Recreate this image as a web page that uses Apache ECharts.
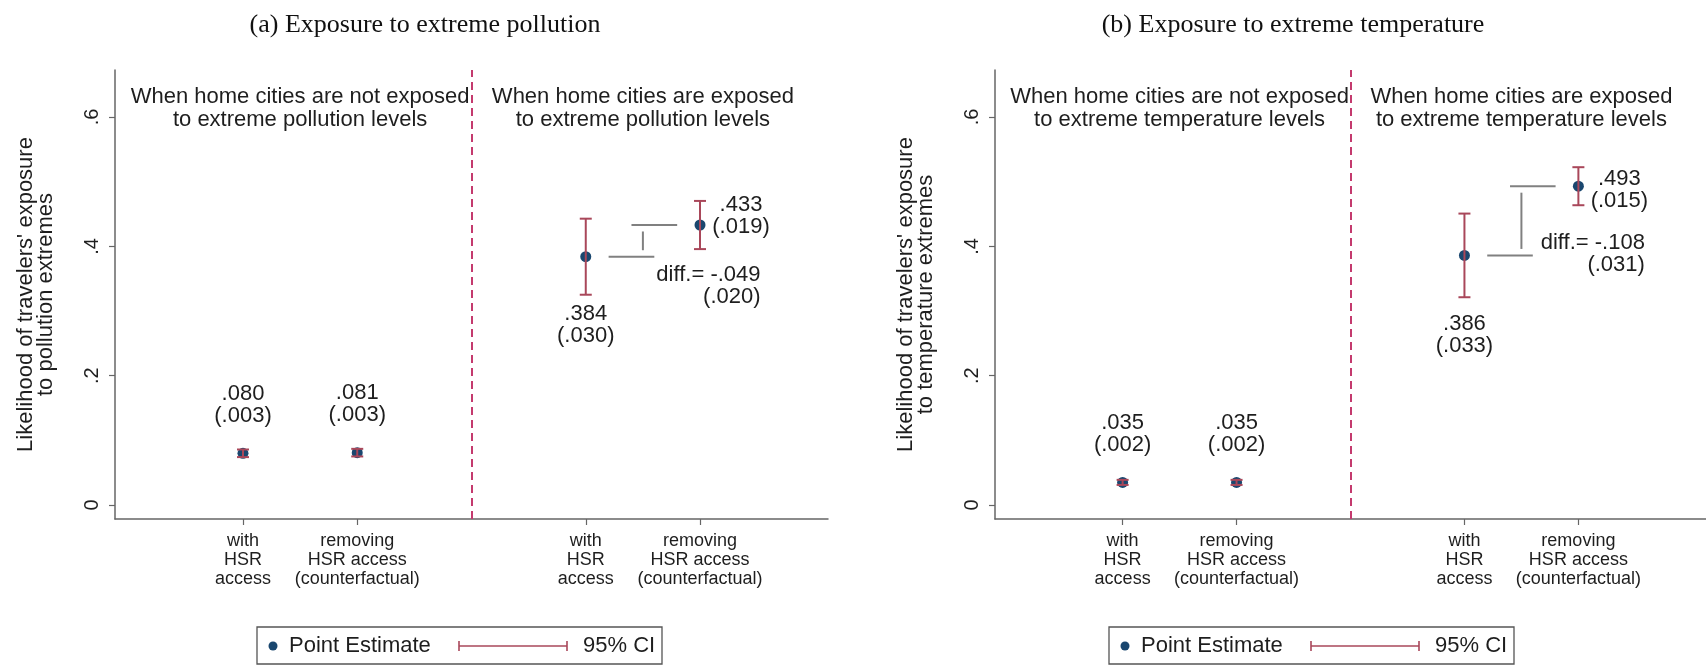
<!DOCTYPE html>
<html>
<head>
<meta charset="utf-8">
<script src="https://cdn.jsdelivr.net/npm/echarts@6/dist/echarts.min.js"></script>
<style>
  html, body { margin: 0; padding: 0; background: #fff; }
  #main { width: 1706px; height: 666px; }
</style>
</head>
<body>
<div id="main"></div>
<script>
// x positions of the four estimates (3 is the dashed divider)
const xPositions = [1, 2, 4, 5];
const xTickLabels = ['with\nHSR\naccess', 'removing\nHSR access\n(counterfactual)', 'with\nHSR\naccess', 'removing\nHSR access\n(counterfactual)'];
const yTicks = [0, 0.2, 0.4, 0.6];
const yTickLabels = ['0', '.2', '.4', '.6'];

// panel (a) pollution
const pollutionEst = [0.080, 0.081, 0.384, 0.433];
const pollutionSE = [0.003, 0.003, 0.030, 0.019];
const pollutionDiff = [-0.049, 0.020];
// panel (b) temperature
const temperatureEst = [0.035, 0.035, 0.386, 0.493];
const temperatureSE = [0.002, 0.002, 0.033, 0.015];
const temperatureDiff = [-0.108, 0.031];

const panelTitles = ['(a) Exposure to extreme pollution', '(b) Exposure to extreme temperature'];
const yTitles = ["Likelihood of travelers' exposure\nto pollution extremes", "Likelihood of travelers' exposure\nto temperature extremes"];
const groupHeadersA = ['When home cities are not exposed\nto extreme pollution levels', 'When home cities are exposed\nto extreme pollution levels'];
const groupHeadersB = ['When home cities are not exposed\nto extreme temperature levels', 'When home cities are exposed\nto extreme temperature levels'];

const NAVY = '#1a476f';
const CI_RED = '#a9475a';
const DASH = '#c43a6e';
const GRAY = '#808080';
const INK = '#1e1e1e';
const FONT = 'Liberation Sans, Arial, sans-serif';

const fmt = v => v.toFixed(3).replace(/^(-?)0\./, '$1.');

const chart = echarts.init(document.getElementById('main'));

const panels = [
  { est: pollutionEst, se: pollutionSE, diff: pollutionDiff, headers: groupHeadersA, left: 115, titleX: 420, legendX: 257,
    rightLabelPos: [46.5, -4], lowDist: 8, diffPos: [61, 30] },
  { est: temperatureEst, se: temperatureSE, diff: temperatureDiff, headers: groupHeadersB, left: 995, titleX: 1288, legendX: 1109,
    rightLabelPos: [46.5, 9.5], lowDist: 15, diffPos: [67, -1] }
];

// invisible anchor points that only carry a text label
const hidden = { color: 'rgba(0,0,0,0)', opacity: 1 };

const grids = [], xAxes = [], yAxes = [], series = [], titles = [], graphics = [];

panels.forEach((p, k) => {
  grids.push({ left: p.left, top: 70, width: 713, height: 449 });
  xAxes.push({
    type: 'value', gridIndex: k, min: -0.12, max: 6.12,
    axisLine: { onZero: false, lineStyle: { color: '#666', width: 1.5 } },
    axisTick: { customValues: xPositions, length: 6, lineStyle: { color: '#666', width: 1.2 } },
    axisLabel: {
      customValues: xPositions, margin: 13, color: INK, fontSize: 18, lineHeight: 19, fontFamily: FONT,
      formatter: v => xTickLabels[xPositions.indexOf(v)] || ''
    },
    splitLine: { show: false }
  });
  yAxes.push({
    type: 'value', gridIndex: k, min: -0.0216, max: 0.6727,
    name: yTitles[k], nameLocation: 'middle', nameGap: 59, nameRotate: 90,
    nameTextStyle: { color: INK, fontSize: 22, lineHeight: 20, fontFamily: FONT },
    axisLine: { show: true, onZero: false, lineStyle: { color: '#666', width: 1.5 } },
    axisTick: { show: true, customValues: yTicks, length: 6, lineStyle: { color: '#666', width: 1.2 } },
    axisLabel: {
      customValues: yTicks, rotate: 90, margin: 13, color: INK, fontSize: 20, fontFamily: FONT,
      formatter: v => yTickLabels[yTicks.indexOf(v)] ?? ''
    },
    splitLine: { show: false }
  });

  const ci = p.est.map((e, i) => [xPositions[i], e - 1.96 * p.se[i], e + 1.96 * p.se[i]]);

  // point estimates
  series.push({
    type: 'scatter', name: 'Point Estimate', xAxisIndex: k, yAxisIndex: k, silent: true, z: 3,
    symbolSize: 11, itemStyle: { color: NAVY, opacity: 1 },
    data: p.est.map((e, i) => {
      const txt = fmt(e) + '\n(' + fmt(p.se[i]) + ')';
      let label;
      if (i < 2) label = { show: true, position: 'top', distance: 21 };
      else if (i === 3) label = { show: true, position: p.rightLabelPos, align: 'center', verticalAlign: 'middle' };
      else label = { show: false };
      return { value: [xPositions[i], e], label: Object.assign(label, { formatter: txt }) };
    }),
    label: { color: INK, fontSize: 22, lineHeight: 22, fontFamily: FONT },
    markLine: {
      silent: true, symbol: ['none', 'none'], label: { show: false },
      lineStyle: { type: [8, 5], color: DASH, width: 2 },
      data: [{ xAxis: 3 }]
    }
  });

  // 95% CI caps
  series.push({
    type: 'custom', name: '95% CI', xAxisIndex: k, yAxisIndex: k, silent: true, z: 4,
    data: ci,
    encode: { x: 0, y: [1, 2] },
    renderItem: (params, api) => {
      const lo = api.coord([api.value(0), api.value(1)]);
      const hi = api.coord([api.value(0), api.value(2)]);
      const st = { stroke: CI_RED, lineWidth: 2 };
      return { type: 'group', children: [
        { type: 'line', shape: { x1: lo[0], y1: lo[1], x2: hi[0], y2: hi[1] }, style: st },
        { type: 'line', shape: { x1: lo[0] - 6, y1: lo[1], x2: lo[0] + 6, y2: lo[1] }, style: st },
        { type: 'line', shape: { x1: hi[0] - 6, y1: hi[1], x2: hi[0] + 6, y2: hi[1] }, style: st }
      ] };
    }
  });

  // label under the CI of the "with HSR access" estimate in the exposed group
  series.push({
    type: 'scatter', xAxisIndex: k, yAxisIndex: k, silent: true, symbolSize: 1, itemStyle: hidden,
    data: [[ci[2][0], ci[2][1]]],
    label: { show: true, position: 'bottom', distance: p.lowDist, color: INK, fontSize: 22, lineHeight: 22, fontFamily: FONT,
      formatter: fmt(p.est[2]) + '\n(' + fmt(p.se[2]) + ')' }
  });

  // difference bracket
  series.push({
    type: 'custom', xAxisIndex: k, yAxisIndex: k, silent: true, z: 2,
    data: [[xPositions[2], p.est[2], p.est[3]]],
    encode: { x: 0, y: [1, 2] },
    renderItem: (params, api) => {
      const x = api.value(0), a = api.value(1), b = api.value(2);
      const st = { stroke: GRAY, lineWidth: 2 };
      const L = (p1, p2) => ({ type: 'line', shape: { x1: p1[0], y1: p1[1], x2: p2[0], y2: p2[1] }, style: st });
      return { type: 'group', children: [
        L(api.coord([x + 0.2, a]), api.coord([x + 0.6, a])),
        L(api.coord([x + 0.4, b]), api.coord([x + 0.8, b])),
        L(api.coord([x + 0.5, a + 0.01]), api.coord([x + 0.5, b - 0.01]))
      ] };
    }
  });

  // diff label
  series.push({
    type: 'scatter', xAxisIndex: k, yAxisIndex: k, silent: true, symbolSize: 1, itemStyle: hidden,
    data: [[xPositions[3], p.est[2]]],
    label: { show: true, position: p.diffPos, align: 'right', verticalAlign: 'middle',
      color: INK, fontSize: 22, lineHeight: 22, fontFamily: FONT,
      formatter: 'diff.= ' + fmt(p.diff[0]) + '\n(' + fmt(p.diff[1]) + ')' }
  });

  // group headers, centred over each pair of estimates
  series.push({
    type: 'scatter', xAxisIndex: k, yAxisIndex: k, silent: true, symbolSize: 1, itemStyle: hidden,
    data: [[(xPositions[0] + xPositions[1]) / 2, 0.613], [(xPositions[2] + xPositions[3]) / 2, 0.613]]
      .map((v, j) => ({ value: v, label: { formatter: p.headers[j] } })),
    label: { show: true, position: 'inside', color: INK, fontSize: 22, lineHeight: 23, fontFamily: FONT,
      textBorderWidth: 0 }
  });

  titles.push({
    text: panelTitles[k], left: p.titleX, top: 7, textAlign: 'center',
    textStyle: { fontFamily: 'Liberation Serif, Times New Roman, serif', fontWeight: 'normal', fontSize: 26, color: '#111' }
  });

  // legend box below each panel
  const Lx = p.legendX, cy = 646;
  graphics.push(
    { type: 'rect', shape: { x: Lx, y: 627, width: 405, height: 37 }, style: { fill: '#fff', stroke: '#555', lineWidth: 1.3 } },
    { type: 'circle', shape: { cx: Lx + 16, cy: cy, r: 4.5 }, style: { fill: NAVY } },
    { type: 'text', x: Lx + 32, y: cy, style: { text: 'Point Estimate', fill: INK, fontSize: 22, fontFamily: FONT, verticalAlign: 'middle' } },
    { type: 'line', shape: { x1: Lx + 202, y1: cy, x2: Lx + 310, y2: cy }, style: { stroke: CI_RED, lineWidth: 1.6 } },
    { type: 'line', shape: { x1: Lx + 202, y1: cy - 5, x2: Lx + 202, y2: cy + 5 }, style: { stroke: CI_RED, lineWidth: 1.6 } },
    { type: 'line', shape: { x1: Lx + 310, y1: cy - 5, x2: Lx + 310, y2: cy + 5 }, style: { stroke: CI_RED, lineWidth: 1.6 } },
    { type: 'text', x: Lx + 326, y: cy, style: { text: '95% CI', fill: INK, fontSize: 22, fontFamily: FONT, verticalAlign: 'middle' } }
  );
});

chart.setOption({
  backgroundColor: '#fff',
  animation: false,
  title: titles,
  grid: grids,
  xAxis: xAxes,
  yAxis: yAxes,
  series: series,
  graphic: graphics
});
</script>
</body>
</html>
